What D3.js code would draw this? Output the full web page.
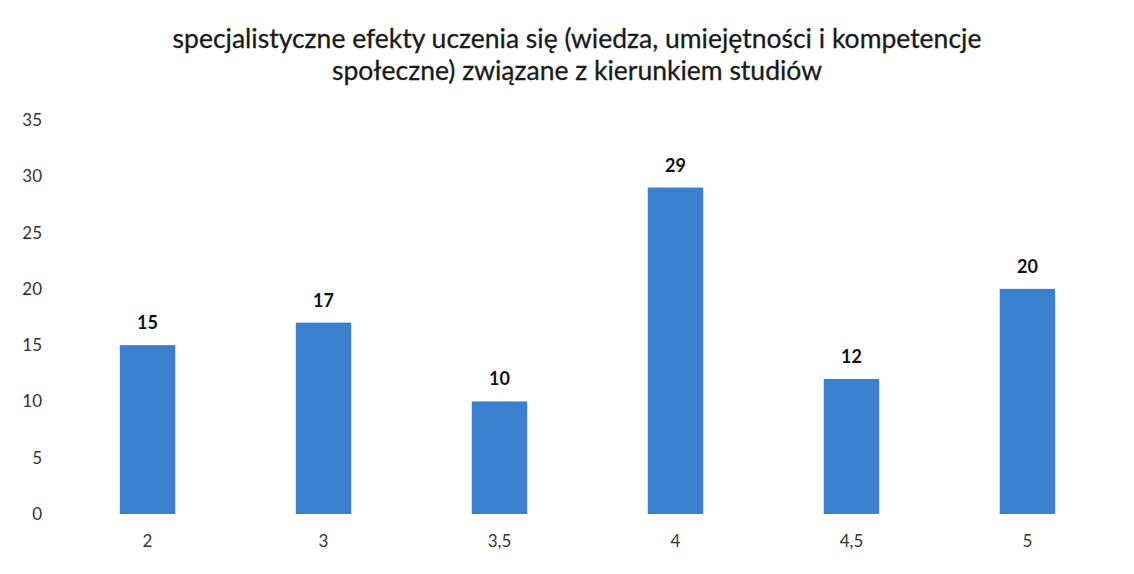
<!DOCTYPE html>
<html><head><meta charset="utf-8">
<script src="https://cdn.jsdelivr.net/npm/d3@7"></script>
<style>body{margin:0;background:#fff}svg{display:block}</style>
</head><body>
<svg id="c" width="1134" height="574"></svg>
<script>
const categories = ["2","3","3,5","4","4,5","5"];
const values = [15,17,10,29,12,20];
const yTicks = [0,5,10,15,20,25,30,35];
const titleLines = ["specjalistyczne efekty uczenia się (wiedza, umiejętności i kompetencje","społeczne) związane z kierunkiem studiów"];

const svg = d3.select("#c");
const font = "Lato, 'Open Sans', sans-serif";
const x = d3.scaleBand().domain(categories).range([60,1115]).paddingInner(0.685).paddingOuter(0.34);
const y = d3.scaleLinear().domain([0,35]).range([514,120]);

svg.append("g").selectAll("text").data(titleLines).join("text")
  .attr("x",577).attr("y",(d,i)=>48+i*32).attr("text-anchor","middle")
  .attr("font-family",font).attr("font-size",26.5).attr("fill","#1a1a1a")
  .attr("stroke","#1a1a1a").attr("stroke-width",0.3).text(d=>d);

const yAxis = d3.axisLeft(y).tickValues(yTicks).tickSize(0).tickPadding(0);
const gy = svg.append("g").attr("transform","translate(42,0)").call(yAxis);
gy.select(".domain").remove();
gy.selectAll("text").attr("font-family",font).attr("font-size",17).attr("fill","#333");

svg.append("g").selectAll("rect").data(values).join("rect")
  .attr("x",(d,i)=>x(categories[i])).attr("width",x.bandwidth())
  .attr("y",d=>y(d)).attr("height",d=>y(0)-y(d)).attr("fill","#3a80cf");

svg.append("g").selectAll("text").data(values).join("text")
  .attr("x",(d,i)=>x(categories[i])+x.bandwidth()/2).attr("y",d=>y(d)-16)
  .attr("text-anchor","middle").attr("font-family",font).attr("font-weight","bold")
  .attr("font-size",18).attr("fill","#111").text(d=>d);

const xAxis = d3.axisBottom(x).tickSize(0).tickPadding(0);
const gx = svg.append("g").attr("transform","translate(0,532)").call(xAxis);
gx.select(".domain").remove();
gx.selectAll("text").attr("font-family",font).attr("font-size",17).attr("fill","#333").attr("dy","0.9em");
</script>
</body></html>
